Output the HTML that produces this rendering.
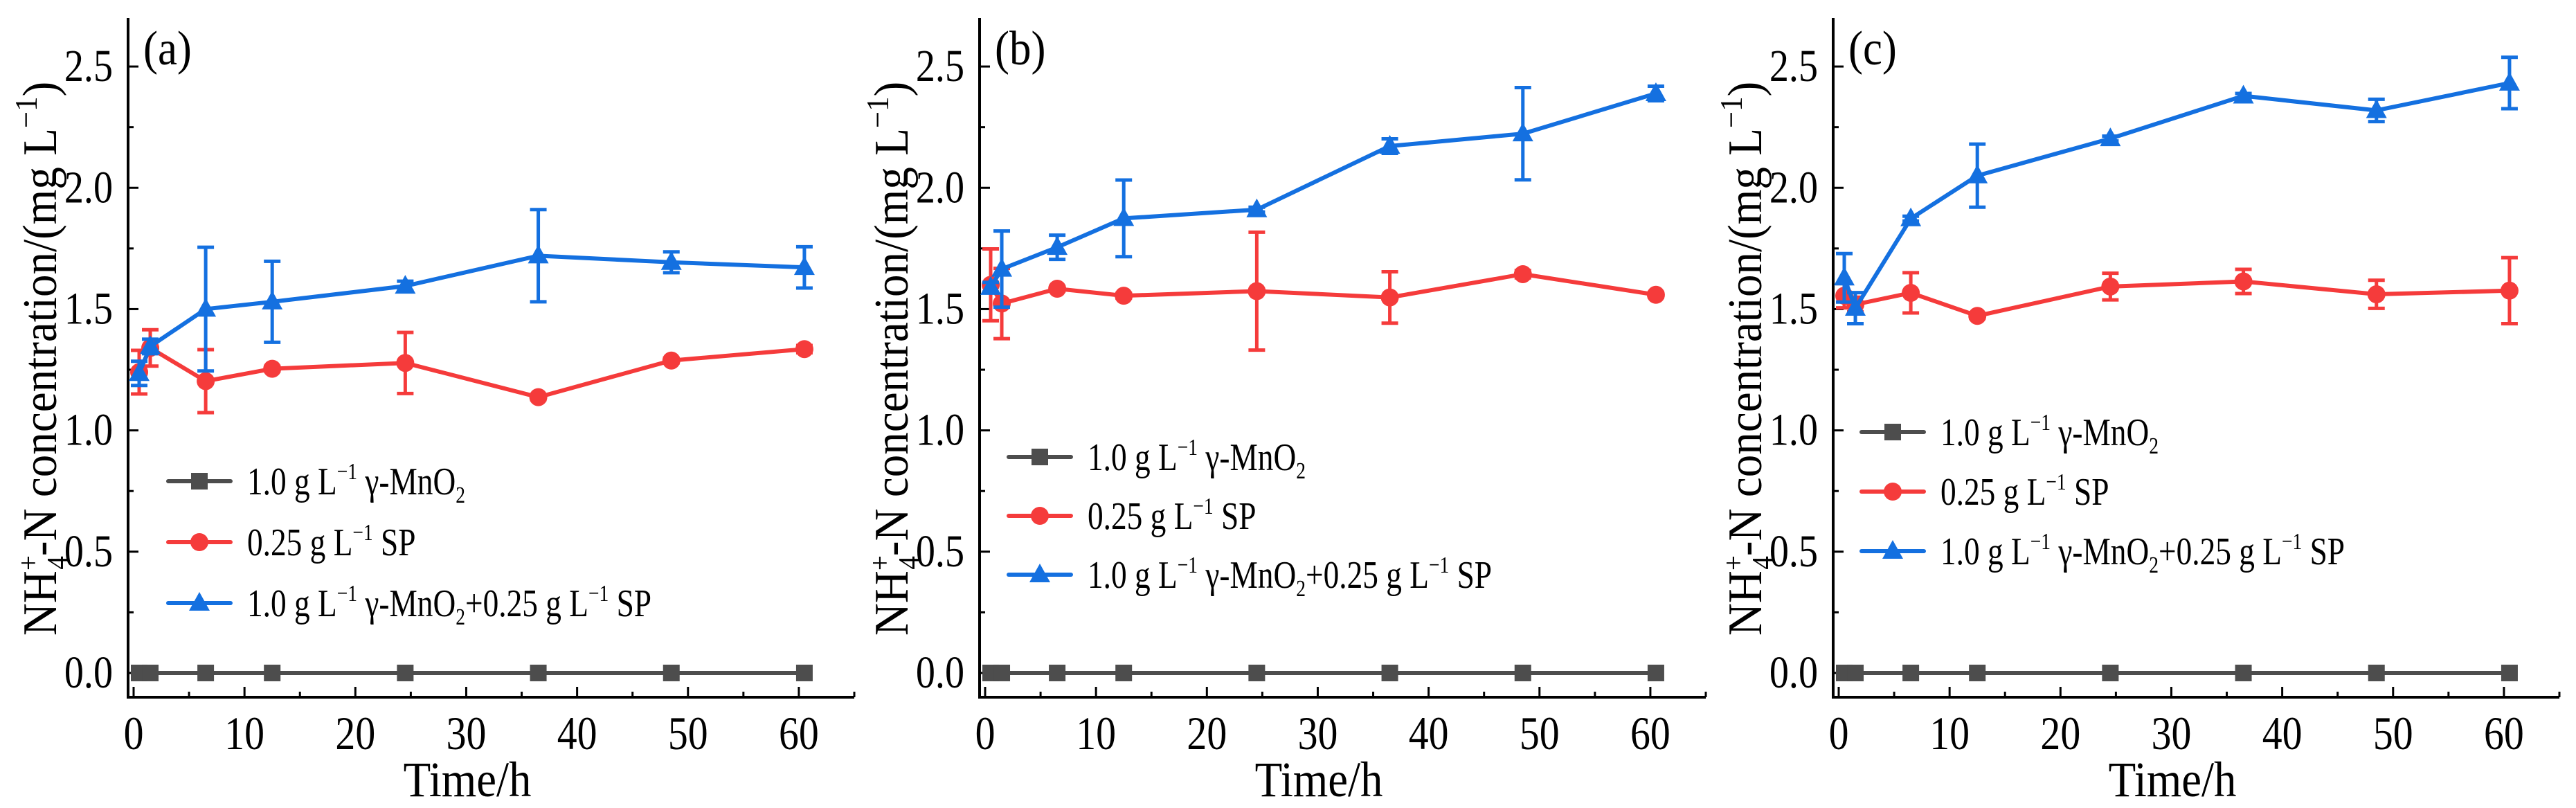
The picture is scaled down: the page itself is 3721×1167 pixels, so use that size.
<!DOCTYPE html>
<html><head><meta charset="utf-8"><style>
html,body{margin:0;padding:0;background:#fff}
svg{display:block;font-family:"Liberation Serif",serif}
</style></head><body>
<svg id="chart" width="3721" height="1167" viewBox="0 0 3721 1167" xmlns="http://www.w3.org/2000/svg"></svg>
<script>
const timeH = [0.5, 1.5, 6.5, 12.5, 24.5, 36.5, 48.5, 60.5];
const xTicks = [0, 10, 20, 30, 40, 50, 60];
const yTicks = [0.0, 0.5, 1.0, 1.5, 2.0, 2.5];
const yTickLabels = ["0.0", "0.5", "1.0", "1.5", "2.0", "2.5"];
const panelLabels = ["(a)", "(b)", "(c)"];
const mnoVals = [0, 0, 0, 0, 0, 0, 0, 0];
const spA = [1.24, 1.34, 1.203, 1.254, 1.278, 1.137, 1.288, 1.335];
const spAErr = [0.09, 0.075, 0.13, 0.01, 0.126, 0.01, 0.01, 0.015];
const mixA = [1.235, 1.346, 1.50, 1.53, 1.595, 1.72, 1.693, 1.672];
const mixAErr = [0.05, 0.03, 0.255, 0.167, 0.02, 0.19, 0.043, 0.085];
const spB = [1.60, 1.523, 1.584, 1.555, 1.574, 1.548, 1.644, 1.559];
const spBErr = [0.148, 0.145, 0.01, 0.01, 0.243, 0.106, 0.015, 0.01];
const mixB = [1.59, 1.665, 1.755, 1.874, 1.91, 2.172, 2.223, 2.389];
const mixBErr = [0.02, 0.157, 0.05, 0.158, 0.01, 0.03, 0.19, 0.03];
const spC = [1.555, 1.519, 1.567, 1.472, 1.593, 1.614, 1.561, 1.576];
const spCErr = [0.05, 0.03, 0.083, 0.01, 0.055, 0.05, 0.058, 0.136];
const mixC = [1.629, 1.504, 1.873, 2.05, 2.203, 2.379, 2.319, 2.432];
const mixCErr = [0.1, 0.064, 0.01, 0.13, 0.01, 0.01, 0.046, 0.106];

const NS = "http://www.w3.org/2000/svg";
const svg = document.getElementById("chart");
const GRAY = "#4d4d4d", RED = "#f53b3b", BLUE = "#1470e0";
function mk(tag, attrs, parent) {
  const e = document.createElementNS(NS, tag);
  for (const k in attrs) e.setAttribute(k, attrs[k]);
  (parent || svg).appendChild(e);
  return e;
}
// condensed text: group translated and horizontally scaled
function ctext(parent, x, y, sx, attrs, rot) {
  const tr = `translate(${x},${y})` + (rot ? ` rotate(${rot})` : "") + ` scale(${sx},1)`;
  const g = mk("g", {transform: tr}, parent);
  return mk("text", Object.assign({x: 0, y: 0}, attrs), g);
}
const X0 = -0.5, X1 = 65, Y0 = -0.1, Y1 = 2.7;
const axisLefts = [185, 1415, 2648];
const AX_TOP = 26, AX_BOT = 1007, PLOT_W = 1049;
const legendOff = [[58, 695, 88], [42, 660, 85], [41, 624, 86]];
const panels = [
  {sp: spA, spE: spAErr, mix: mixA, mixE: mixAErr},
  {sp: spB, spE: spBErr, mix: mixB, mixE: mixBErr},
  {sp: spC, spE: spCErr, mix: mixC, mixE: mixCErr}
];

function marker(g, type, cx, cy, color) {
  let m;
  if (type === "square") m = mk("rect", {x: cx - 12, y: cy - 12, width: 24, height: 24, fill: color}, g);
  else if (type === "circle") m = mk("circle", {cx: cx, cy: cy, r: 13, fill: color}, g);
  else m = mk("polygon", {points: `${cx},${cy - 16} ${cx - 15},${cy + 11} ${cx + 15},${cy + 11}`, fill: color}, g);
  return m;
}

panels.forEach((p, pi) => {
  const L = axisLefts[pi];
  const xs = v => L + (v - X0) / (X1 - X0) * PLOT_W;
  const ys = v => AX_BOT - (v - Y0) / (Y1 - Y0) * (AX_BOT - AX_TOP);
  const g = mk("g", {});
  
  

  const ax = mk("path", {d: `M${L},${AX_TOP} V${AX_BOT} H${L + PLOT_W}`, stroke: "#000", "stroke-width": 4, fill: "none"}, g);
  
  
  for (let v = 0; v <= 65; v += 5) {
    const major = v % 10 === 0;
    mk("line", {x1: xs(v), x2: xs(v), y1: AX_BOT, y2: AX_BOT - (major ? 15 : 8), stroke: "#000", "stroke-width": 3}, g);
  }
  xTicks.forEach(v => {
    const t = ctext(g, xs(v), 1082, 0.85, {"font-size": 68, "text-anchor": "middle"});
    t.textContent = v;
    
    
  });
  for (let i = 0; i <= 10; i++) {
    const v = i * 0.25;
    const major = i % 2 === 0;
    mk("line", {x1: L, x2: L + (major ? 15 : 8), y1: ys(v), y2: ys(v), stroke: "#000", "stroke-width": 3}, g);
  }
  yTicks.forEach((v, i) => {
    const t = ctext(g, L - 22, ys(v) + 21, 0.85, {"font-size": 66, "text-anchor": "end"});
    t.textContent = yTickLabels[i];
    
    
  });
  const xt = ctext(g, L + 490, 1150, 0.9, {"font-size": 72, "text-anchor": "middle"});
  xt.textContent = "Time/h";
  
  
  const yt = ctext(g, L - 104, 518, 0.93, {"font-size": 70, "text-anchor": "middle"}, -90);
  
  
  yt.innerHTML = 'NH<tspan font-size="42" dy="-26">+</tspan><tspan font-size="42" dx="-22" dy="42">4</tspan><tspan dy="-16">-N concentration/(mg L</tspan><tspan font-size="46" dy="-28">−1</tspan><tspan dy="28">)</tspan>';
  const pl = ctext(g, L + 22, 93, 0.9, {"font-size": 70});
  pl.textContent = panelLabels[pi];
  
  

  const series = [
    {vals: mnoVals, err: null, color: GRAY, m: "square", name: "series-mno2"},
    {vals: p.sp, err: p.spE, color: RED, m: "circle", name: "series-sp"},
    {vals: p.mix, err: p.mixE, color: BLUE, m: "triangle", name: "series-mno2-sp"}
  ];
  series.forEach(s => {
    const sg = mk("g", {}, g);
    
    
    if (s.err) s.vals.forEach((v, i) => {
      const x = xs(timeH[i]), a = ys(v + s.err[i]), b = ys(v - s.err[i]);
      const eb = mk("path", {d: `M${x},${a} V${b} M${x - 12},${a} H${x + 12} M${x - 12},${b} H${x + 12}`, stroke: s.color, "stroke-width": 5, fill: "none"}, sg);
      
      
    });
    const ln = mk("polyline", {points: s.vals.map((v, i) => xs(timeH[i]) + "," + ys(v)).join(" "), stroke: s.color, "stroke-width": 6, fill: "none"}, sg);
    
    
    s.vals.forEach((v, i) => {
      const m = marker(sg, s.m, xs(timeH[i]), ys(v), s.color);
      
      
    });
  });

  const [lo, ly, dy] = legendOff[pi];
  const labels = [
    '1.0 g L<tspan font-size="34" dy="-22">−1</tspan><tspan dy="22"> γ-MnO</tspan><tspan font-size="34" dy="12">2</tspan>',
    '0.25 g L<tspan font-size="34" dy="-22">−1</tspan><tspan dy="22"> SP</tspan>',
    '1.0 g L<tspan font-size="34" dy="-22">−1</tspan><tspan dy="22"> γ-MnO</tspan><tspan font-size="34" dy="12">2</tspan><tspan dy="-12">+0.25 g L</tspan><tspan font-size="34" dy="-22">−1</tspan><tspan dy="22"> SP</tspan>'
  ];
  const lg = mk("g", {}, g);
  
  
  series.forEach((s, i) => {
    const y = ly + i * dy;
    const eg = mk("g", {}, lg);
    
    
    mk("line", {x1: L + lo, x2: L + lo + 90, y1: y, y2: y, stroke: s.color, "stroke-width": 6, "stroke-linecap": "round"}, eg);
    marker(eg, s.m, L + lo + 45, y, s.color);
    const t = ctext(eg, L + lo + 114, y + 19, 0.81, {"font-size": 56});
    t.innerHTML = labels[i];
  });
});
</script>
</body></html>
